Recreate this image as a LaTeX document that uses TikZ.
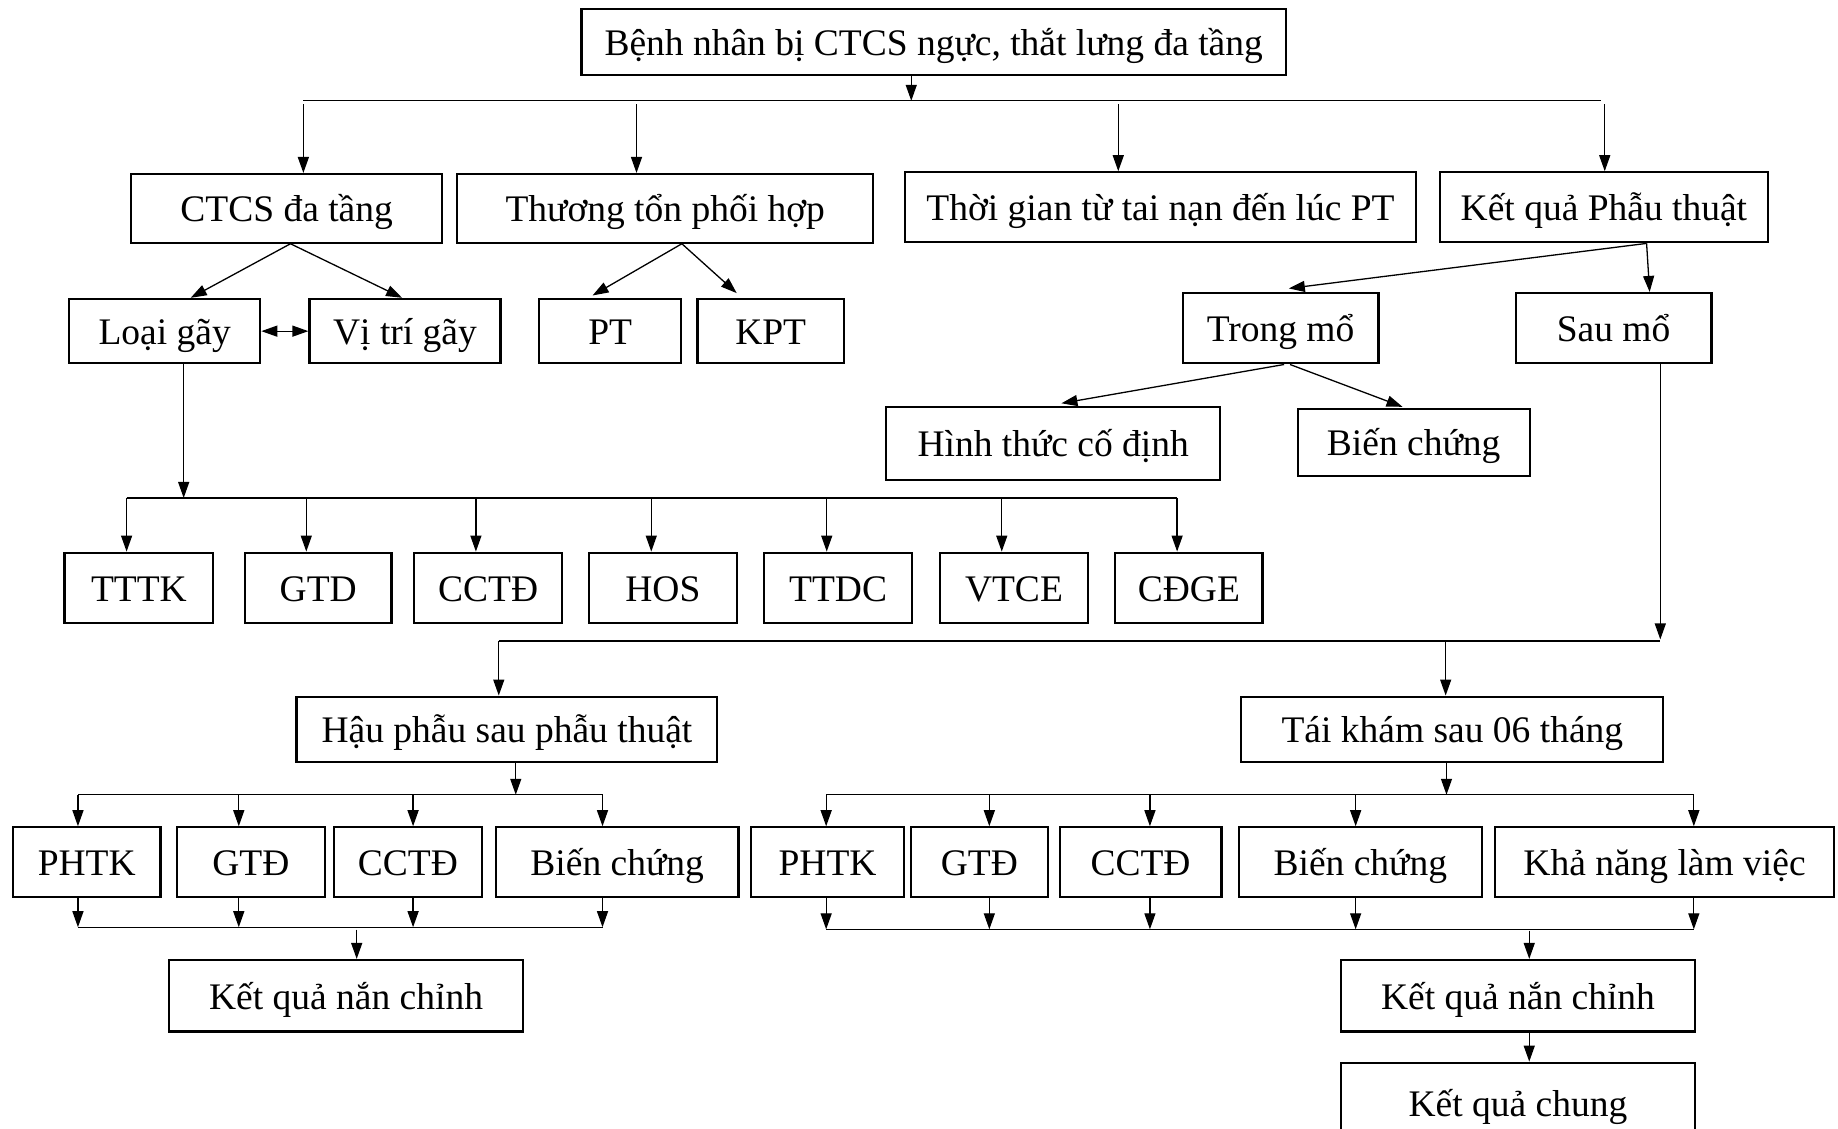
\documentclass[tikz,border=0pt]{standalone}
\usepackage{fontspec}
\setmainfont{Liberation Serif}
\usetikzlibrary{arrows.meta,calc}
\tikzset{
  box/.style={draw, line width=2.2pt, inner sep=0pt, font=\fontsize{37.5}{41}\selectfont, text height=31pt, text depth=4pt},
  ln/.style={line width=1.3pt},
  arr/.style={line width=1.3pt, -{Triangle[length=16pt,width=11pt]}},
  darr/.style={line width=1.3pt, {Triangle[length=16pt,width=11pt]}-{Triangle[length=16pt,width=11pt]}}
}
\newcommand\bx[6]{\node[box, minimum width={(#3-#2)*1.1722pt}, minimum height={(#5-#4)*1.1722pt}] (#1) at ({(#2+#3)/2},{(#4+#5)/2}) {#6};}
% drop from a named coordinate down to the north of a node
\newcommand\drop[4]{\coordinate (#1) at (#2,#3); \draw[arr] (#1) -- (#1 |- #4.north);}
% arrow from the south of a node down to a named coordinate on a bus
\newcommand\rise[4]{\coordinate (#1) at (#2,#3); \draw[arr] (#1 |- #4.south) -- (#1);}
\begin{document}
\begin{tikzpicture}[x=1.1722pt,y=-1.1722pt]
\clip (0,0) rectangle (1568,963);
\fill[white] (0,0) rectangle (1568,963);
% ---------- boxes ----------
\bx{top}{496}{1097}{8}{64}{Bệnh nhân bị CTCS ngực, thắt lưng đa tầng}
\bx{ctcs}{112}{377}{148.5}{207}{CTCS đa tầng}
\bx{tt}{390}{745}{148.5}{207}{Thương tổn phối hợp}
\bx{tg}{772}{1208}{147}{206.7}{Thời gian từ tai nạn đến lúc PT}
\bx{kq}{1228.6}{1508}{147}{206.7}{Kết quả Phẫu thuật}
\bx{loai}{59}{222}{255}{310}{Loại gãy}
\bx{vitri}{264}{427}{255}{310}{Vị trí gãy}
\bx{pt}{460}{581}{255}{310}{PT}
\bx{kpt}{595}{720}{255}{310}{KPT}
\bx{trong}{1009}{1176}{250}{310}{Trong mổ}
\bx{sau}{1293}{1460}{250}{310}{Sau mổ}
\bx{hinh}{756}{1041}{347}{409.5}{Hình thức cố định}
\bx{bca}{1107}{1305}{349}{405.8}{Biến chứng}
\bx{tttk}{55}{182}{471.5}{531.5}{TTTK}
\bx{gtd}{209}{334}{471.5}{531.5}{GTD}
\bx{cctda}{353.5}{479.5}{471.5}{531.5}{CCTĐ}
\bx{hos}{502.5}{628.5}{471.5}{531.5}{HOS}
\bx{ttdc}{652}{778}{471.5}{531.5}{TTDC}
\bx{vtce}{802}{928}{471.5}{531.5}{VTCE}
\bx{cdge}{951.5}{1077}{471.5}{531.5}{CĐGE}
\bx{hau}{253}{612}{594.3}{649.8}{Hậu phẫu sau phẫu thuật}
\bx{tai}{1059}{1419}{594.3}{649.8}{Tái khám sau 06 tháng}
\bx{phtka}{11}{137}{705.8}{765}{PHTK}
\bx{gtda}{151}{277}{705.8}{765}{GTĐ}
\bx{cctdb}{285}{411}{705.8}{765}{CCTĐ}
\bx{bcb}{423}{630}{705.8}{765}{Biến chứng}
\bx{phtkb}{641}{771}{705.8}{765}{PHTK}
\bx{gtdb}{777}{894}{705.8}{765}{GTĐ}
\bx{cctdc}{904}{1042}{705.8}{765}{CCTĐ}
\bx{bcc}{1057}{1264}{705.8}{765}{Biến chứng}
\bx{kn}{1275.5}{1564.5}{705.8}{765}{Khả năng làm việc}
\bx{kqnca}{144}{446.5}{819}{880}{Kết quả nắn chỉnh}
\bx{kqncb}{1144}{1446}{819}{880}{Kết quả nắn chỉnh}
\bx{kqc}{1144}{1446}{906.6}{975}{Kết quả chung}
% ---------- level 1 ----------
\rise{b0}{777.4}{86}{top}
\coordinate (b0l) at (258.8,86); \coordinate (b0r) at (1366,86);
\draw[ln] (b0l) -- (b0r);
\drop{d1}{258.8}{89}{ctcs}
\drop{d2}{543}{89}{tt}
\drop{d3}{954}{89}{tg}
\drop{d4}{1369}{89}{kq}
% ---------- level 2 ----------
\draw[arr] ($(ctcs.south)+(3.3,0)$) -- ($(loai.north)+(22.2,0)$);
\draw[arr] ($(ctcs.south)+(3.3,0)$) -- ($(vitri.north)+(-2.5,0)$);
\draw[darr] (loai.east) -- (vitri.west);
\draw[arr] ($(tt.south)+(14.2,0)$) -- ($(pt.north)+(-15,-2)$);
\draw[arr] ($(tt.south)+(14.2,0)$) -- ($(kpt.north)+(-29,-4)$);
\draw[arr] ($(kq.south)+(36.4,0)$) -- ($(trong.north)+(7,-3)$);
\draw[arr] ($(kq.south)+(36.4,0)$) -- ($(sau.north)+(30.8,0)$);
\draw[arr] ($(trong.south)+(3,0)$) -- ($(hinh.north)+(7,-2)$);
\draw[arr] ($(trong.south)+(8,0)$) -- ($(bca.north)+(-9.5,-1)$);
% ---------- fracture types ----------
\rise{b1}{156.7}{424.8}{loai}
\coordinate (b1l) at (108,424.8); \coordinate (b1r) at (1004.2,424.8);
\draw[ln] (b1l) -- (b1r);
\drop{e1}{108}{424.8}{tttk}
\drop{e2}{261.3}{424.8}{gtd}
\drop{e3}{406}{424.8}{cctda}
\drop{e4}{555.6}{424.8}{hos}
\drop{e5}{705.3}{424.8}{ttdc}
\drop{e6}{854.6}{424.8}{vtce}
\drop{e7}{1004.2}{424.8}{cdge}
% ---------- after surgery ----------
\rise{b2}{1416.4}{545.5}{sau}
\coordinate (b2l) at (425.5,546.8); \coordinate (b2r) at (1416.4,546.8);
\draw[ln] (b2l) -- (b2r);
\drop{f1}{425.5}{546.8}{hau}
\drop{f2}{1233.3}{546.8}{tai}
% ---------- left bottom ----------
\rise{b3}{440}{678}{hau}
\coordinate (b3l) at (66.5,678); \coordinate (b3r) at (514,678);
\draw[ln] (b3l) -- (b3r);
\drop{g1}{66.5}{678}{phtka}
\drop{g2}{203.7}{678}{gtda}
\drop{g3}{352.4}{678}{cctdb}
\drop{g4}{514}{678}{bcb}
\rise{h1}{66.5}{791}{phtka}
\rise{h2}{203.7}{791}{gtda}
\rise{h3}{352.4}{791}{cctdb}
\rise{h4}{514}{791}{bcb}
\draw[ln] (h1) -- (h4);
\drop{k1}{304.3}{793}{kqnca}
% ---------- right bottom ----------
\rise{b4}{1234}{678}{tai}
\coordinate (b4l) at (704.8,678); \coordinate (b4r) at (1445,678);
\draw[ln] (b4l) -- (b4r);
\drop{m1}{704.8}{678}{phtkb}
\drop{m2}{844}{678}{gtdb}
\drop{m3}{981}{678}{cctdc}
\drop{m4}{1156.5}{678}{bcc}
\drop{m5}{1445}{678}{kn}
\rise{n1}{704.8}{792.8}{phtkb}
\rise{n2}{844}{792.8}{gtdb}
\rise{n3}{981}{792.8}{cctdc}
\rise{n4}{1156.5}{792.8}{bcc}
\rise{n5}{1445}{792.8}{kn}
\draw[ln] (n1) -- (n5);
\drop{k2}{1304.6}{794}{kqncb}
\draw[arr] ($(kqncb.south)+(1304.6-1295,0)$) -- ($(kqc.north)+(1304.6-1295,0)$);
\end{tikzpicture}
\end{document}
